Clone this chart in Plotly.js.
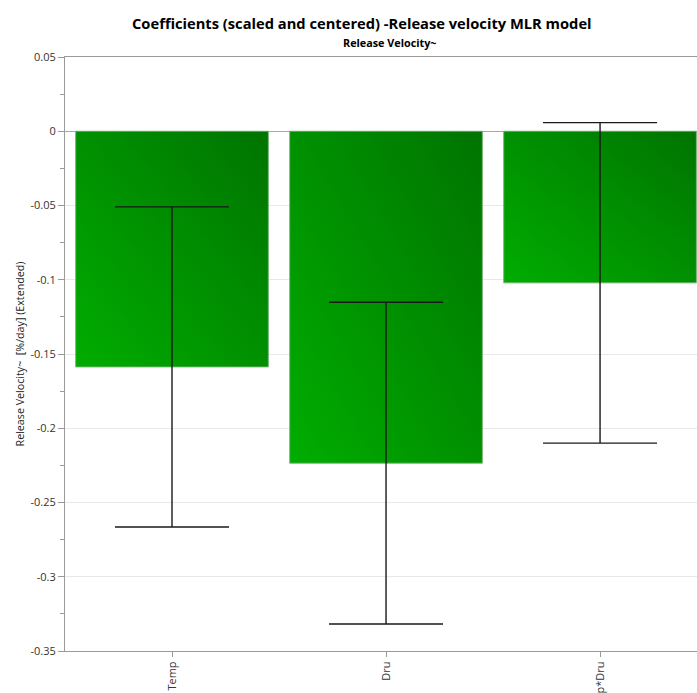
<!DOCTYPE html>
<html>
<head>
<meta charset="utf-8">
<script src="https://cdn.plot.ly/plotly-3.0.1.min.js"></script>
<style>
  html, body { margin: 0; padding: 0; background: #fff; overflow: hidden; }
  #chart { width: 697px; height: 693px; }
</style>
</head>
<body>
<div id="chart"></div>
<script>
// Scaled and centered MLR coefficients with confidence intervals
const terms = ['Temp', 'Dru', 'Temp*Dru'];
const coefficients = [-0.1587, -0.2235, -0.1021];
const confidence = [0.1078, 0.1083, 0.1079];

const yTickVals = [0.05, 0, -0.05, -0.1, -0.15, -0.2, -0.25, -0.3, -0.35];
const yTickText = ['0.05', '0', '-0.05', '-0.1', '-0.15', '-0.2', '-0.25', '-0.3', '-0.35'];

const FONT = '"Open Sans", "Noto Sans", sans-serif';

const trace = {
  type: 'bar',
  x: terms,
  y: coefficients,
  marker: {
    color: '#009000',
    line: { color: 'rgba(110,175,110,0.9)', width: 1 }
  },
  error_y: {
    type: 'data',
    array: confidence,
    visible: true,
    color: '#1a1a1a',
    thickness: 1.4,
    width: 57
  },
  hoverinfo: 'x+y'
};

const layout = {
  width: 697,
  height: 693,
  margin: { l: 65, r: 0, t: 57, b: 42 },
  paper_bgcolor: '#ffffff',
  plot_bgcolor: '#ffffff',
  showlegend: false,
  bargap: 0.1,
  font: { family: FONT, color: '#333333', size: 11 },
  xaxis: {
    type: 'category',
    range: [-0.5, 2.453],
    showline: true,
    mirror: true,
    linecolor: '#9a9a9a',
    linewidth: 1,
    ticks: 'outside',
    ticklen: 5,
    tickcolor: '#9a9a9a',
    tickangle: -90,
    tickfont: { family: FONT, size: 11, color: '#333333' },
    showgrid: false,
    fixedrange: true
  },
  yaxis: {
    range: [-0.35, 0.05],
    tickmode: 'array',
    tickvals: yTickVals,
    ticktext: yTickText,
    showline: true,
    linecolor: '#9a9a9a',
    linewidth: 1,
    ticks: 'outside',
    ticklen: 6,
    tickcolor: '#9a9a9a',
    tickfont: { family: FONT, size: 11, color: '#333333' },
    showgrid: true,
    gridcolor: '#e8e8e8',
    zeroline: true,
    zerolinecolor: '#a8a8a8',
    zerolinewidth: 1,
    minor: { dtick: 0.025, tick0: 0, ticks: 'outside', ticklen: 4, tickcolor: '#9a9a9a', showgrid: false },
    title: {
      text: 'Release Velocity~  [%/day] (Extended)',
      font: { family: FONT, size: 10.7, color: '#222222' },
      standoff: 3
    },
    fixedrange: true
  },
  annotations: [
    {
      text: '<b>Coefficients (scaled and centered) -Release velocity MLR model</b>',
      xref: 'paper', yref: 'paper',
      x: 0.47, y: 1, yshift: 34,
      xanchor: 'center', yanchor: 'middle',
      showarrow: false,
      font: { family: FONT, size: 14.7, color: '#000000' }
    },
    {
      text: '<b>Release Velocity~</b>',
      xref: 'paper', yref: 'paper',
      x: 0.514, y: 1, yshift: 15,
      xanchor: 'center', yanchor: 'middle',
      showarrow: false,
      font: { family: FONT, size: 10.8, color: '#000000' }
    }
  ]
};

Plotly.newPlot('chart', [trace], layout, { displayModeBar: false, staticPlot: true }).then(function (gd) {
  // Diagonal green shading for the bars
  const svg = gd.querySelector('svg.main-svg');
  const ns = 'http://www.w3.org/2000/svg';
  let defs = svg.querySelector('defs');
  if (!defs) { defs = document.createElementNS(ns, 'defs'); svg.insertBefore(defs, svg.firstChild); }
  const grad = document.createElementNS(ns, 'linearGradient');
  grad.setAttribute('id', 'barShade');
  grad.setAttribute('x1', '0'); grad.setAttribute('y1', '1');
  grad.setAttribute('x2', '1'); grad.setAttribute('y2', '0');
  [['0', '#00ad00'], ['1', '#007400']].forEach(function (s) {
    const stop = document.createElementNS(ns, 'stop');
    stop.setAttribute('offset', s[0]);
    stop.setAttribute('stop-color', s[1]);
    grad.appendChild(stop);
  });
  defs.appendChild(grad);
  gd.querySelectorAll('.bars .point path').forEach(function (p) {
    p.style.fill = 'url(#barShade)';
  });
});
</script>
</body>
</html>
